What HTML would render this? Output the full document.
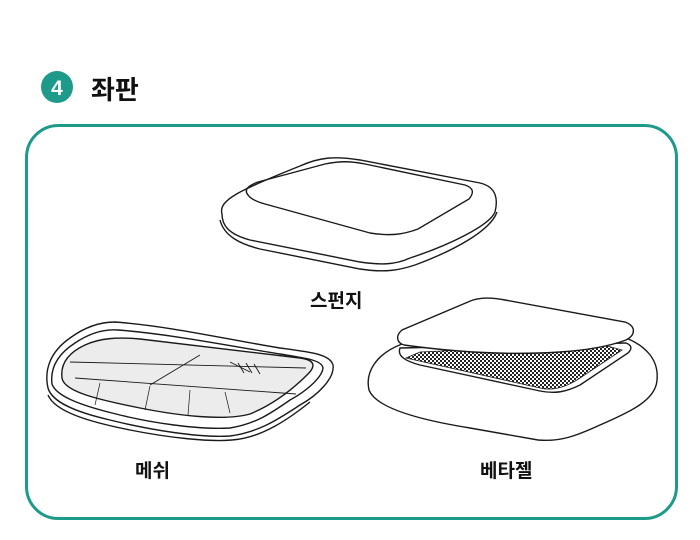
<!DOCTYPE html>
<html><head><meta charset="utf-8"><style>
html,body{margin:0;padding:0;background:#fff;}
body{width:700px;height:540px;position:relative;overflow:hidden;font-family:"Liberation Sans","Noto Sans CJK KR",sans-serif;}
.t{position:absolute;font-weight:bold;color:#111;font-family:"Liberation Sans","Noto Sans CJK KR",sans-serif;}
</style></head><body>
<svg width="700" height="540" style="position:absolute;left:0;top:0">
<defs>
<pattern id="mp" width="4" height="4" patternUnits="userSpaceOnUse">
<rect width="4" height="4" fill="#fff"/><rect width="2" height="2" fill="#222"/><rect x="2" y="2" width="2" height="2" fill="#222"/>
</pattern>
</defs>
<circle cx="57" cy="87" r="16" fill="#1d9a8a"/>
<text x="57" y="95" text-anchor="middle" font-family="Liberation Sans, sans-serif" font-weight="bold" font-size="21" fill="#fff">4</text>
<rect x="26.5" y="125.5" width="650" height="393" rx="32" fill="none" stroke="#1d9a8a" stroke-width="3"/>
<g fill="none" stroke="#1a1a1a" stroke-width="1.4">
<!-- sponge -->
<path d="M222,214 C218,200 240,190 300,166 C320,157 335,156 360,160 L480,183 C497,187 498,200 495,212 C490,225 450,245 410,258 C395,265 380,265 360,262 L250,240 C228,234 222,225 222,214 Z" fill="#fff"/>
<path d="M220,220 C224,236 240,244 260,249 L360,269 C385,273 400,270 415,265 C450,252 490,232 497,212"/>
<path d="M248,195 C243,189 250,185 258,182 L325,164 C340,161 350,161 365,164 L465,185 C474,188 474,193 469,199 L418,229 C402,235 390,236 370,233 L265,204 C254,201 250,198 248,195 Z"/>
<!-- mesh seat -->
<path d="M48,388 C44,370 50,352 70,338 C85,327 100,322 115,322 C170,326 230,340 280,348 C310,352 330,354 333,365 C335,378 318,395 300,405 C280,418 260,432 230,436 C200,438 150,430 110,420 C75,412 52,402 48,388 Z" fill="#fff"/>
<path d="M52,384 C50,368 58,354 75,343 C90,333 105,329 118,330 C170,334 230,346 280,354 C305,358 322,360 323,368 C322,378 305,392 290,400 C270,414 255,424 230,428 C200,430 150,423 112,413 C80,405 56,396 52,384 Z"/>
<path d="M62,378 C60,362 70,352 85,345 C100,338 118,337 140,339 L300,358 C315,360 316,366 308,374 C292,390 272,405 250,414 C225,421 180,416 140,408 C100,400 64,392 62,378 Z" fill="#ececec"/>
<path d="M70,362 L306,368 M75,378 L296,394" stroke-width="0.9"/>
<path d="M150,385 L200,355 M230,362 L250,372 M238,363 L244,373 M246,363 L252,373 M254,364 L260,374" stroke-width="0.9"/>
<path d="M100,383 L95,405 M150,386 L145,410 M190,390 L188,415 M225,392 L230,413" stroke-width="0.7"/>
<path d="M48,395 C55,412 90,422 130,430 C170,438 210,442 232,440 C262,438 290,418 310,402" />
<!-- beta gel base -->
<path d="M402,344 C376,354 365,372 369,390 C376,408 420,420 470,428 L538,440 C560,442 576,436 600,425 C630,412 656,400 657,380 C659,360 646,346 626,338" fill="#fff"/>
<path d="M400,348 C397,356 405,361 420,365 L540,391 C555,394 566,392 580,385 L628,353 C633,348 631,345 626,343 Z" fill="#fff"/>
<path d="M406,358 L420,352 L600,344 L622,350 L580,378 C565,388 552,391 540,388 Z" fill="url(#mp)" stroke-width="0.8"/>
<!-- pad -->
<path d="M402,330 C395,336 397,343 404,345 C440,350 500,356 560,352 C590,350 610,346 626,340 C636,335 636,326 625,322 L505,300 C490,297 478,297 468,302 Z" fill="#fff"/>
</g>
</svg>
<div class="t" style="left:91px;top:70px;font-size:26px;">좌판</div>
<div class="t" style="left:310px;top:286px;font-size:19px;">스펀지</div>
<div class="t" style="left:135px;top:456px;font-size:19px;">메쉬</div>
<div class="t" style="left:480px;top:456px;font-size:19px;">베타젤</div>
</body></html>
